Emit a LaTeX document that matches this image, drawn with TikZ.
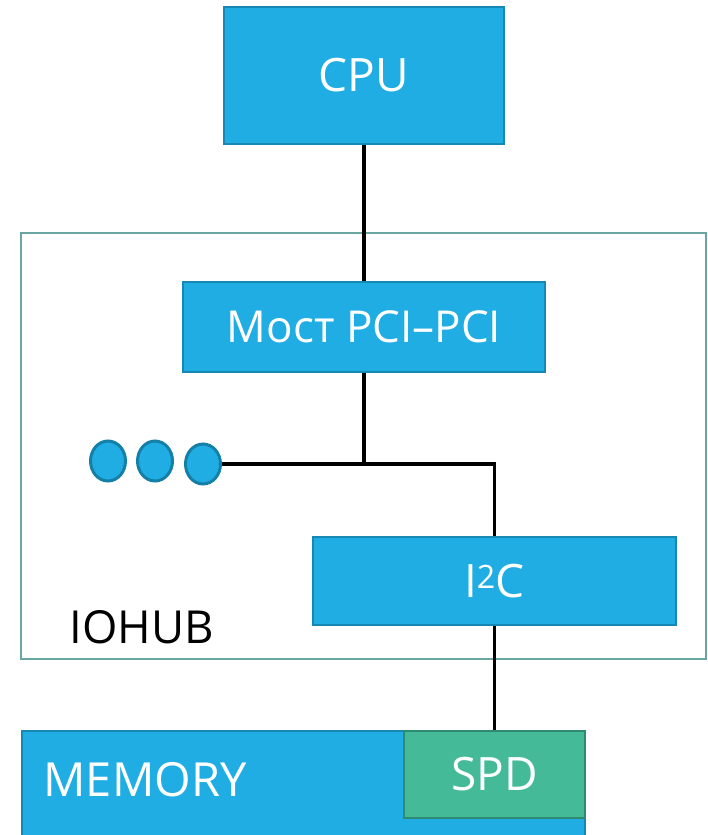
\documentclass[tikz,border=0pt]{standalone}
\usepackage{fontspec}
\setmainfont{Open Sans}
\usetikzlibrary{shapes.geometric}

\tikzset{
  blockbox/.style={draw={rgb,255:red,23;green,135;blue,180},fill={rgb,255:red,31;green,173;blue,227},
    line width=2pt,inner sep=0pt,text=white,font=\fontsize{46}{52}\selectfont},
  spdbox/.style={draw={rgb,255:red,46;green,138;blue,112},fill={rgb,255:red,68;green,186;blue,152},
    line width=2.5pt,inner sep=0pt,text=white,font=\fontsize{46}{52}\selectfont},
  dotnode/.style={ellipse,draw={rgb,255:red,20;green,128;blue,168},fill={rgb,255:red,31;green,173;blue,227},
    line width=3pt,minimum width=35pt,minimum height=40pt,inner sep=0pt},
  wire/.style={line width=3.6pt,black}
}

\begin{document}
\begin{tikzpicture}[x=1pt,y=-1pt]
% 707 x 835, IOHUB with bridge and I2C
\useasboundingbox (0,0) rectangle (707,835);
\node[draw={rgb,255:red,106;green,166;blue,162},line width=2pt,minimum width=685pt,minimum height=426pt,inner sep=0pt] (iohub) at (363.5,446) {};
\node[anchor=west,font=\fontsize{45.5}{50}\selectfont] (iohublabel) at (66,627) {IOHUB};

\node[blockbox,minimum width=280pt,minimum height=137pt] (cpu) at (364,75.5) {CPU};
\node[blockbox,minimum width=362pt,minimum height=90pt,font=\fontsize{44}{50}\selectfont] (bridge) at (364,327) {Мост PCI–PCI};
\node[blockbox,minimum width=363pt,minimum height=88pt] (i2c) at (494.5,581) {I\textsuperscript{2}C};

\node[dotnode] (dot1) at (108,461) {};
\node[dotnode] (dot2) at (155,461) {};
\node[dotnode] (dot3) at (203,464) {};

\node[blockbox,minimum width=563pt,minimum height=112pt] (memory) at (303.5,787) {};
\node[anchor=west,text=white,font=\fontsize{47}{52}\selectfont] (memlabel) at (40,780) {MEMORY};
\node[spdbox,minimum width=181pt,minimum height=87pt] (spd) at (494.5,774.5) {SPD};

\coordinate (split) at (364,464);
\draw[wire] (cpu.south) -- (bridge.north);
\draw[wire] (bridge.south) -- (split) -| (i2c.north);
\draw[wire] (dot3.east) -- (split);
\draw[wire] (i2c.south) -- (spd.north);
\end{tikzpicture}
\end{document}
